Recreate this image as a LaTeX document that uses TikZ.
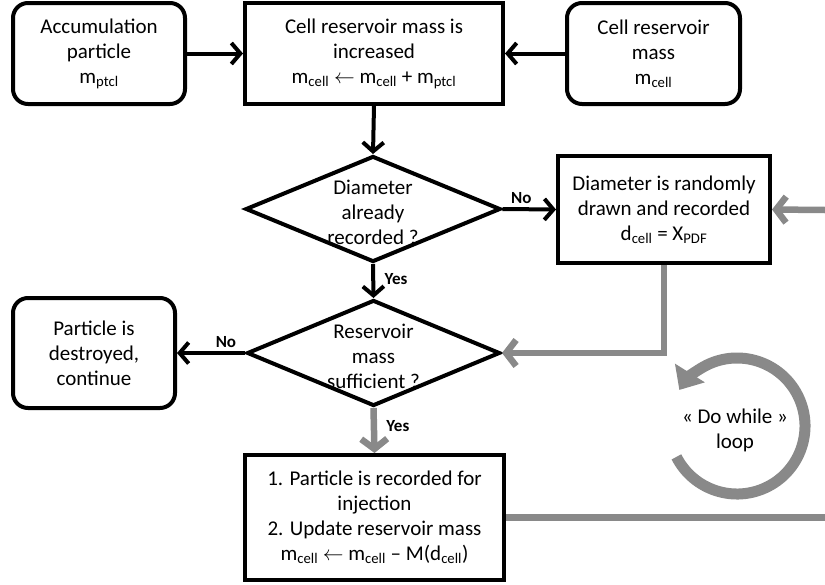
\documentclass[tikz,border=0pt]{standalone}
\usepackage{fontspec}
\setmainfont{Carlito}
\usetikzlibrary{positioning, arrows.meta, shapes.geometric}
\definecolor{loopgray}{RGB}{137,137,137}
\tikzset{
  block/.style={draw, line width=4pt, align=center, inner sep=0pt, font=\fontsize{21}{25}\selectfont},
  task/.style={block},
  source/.style={block, rounded corners=15pt},
  decision/.style={draw, diamond, line width=4pt, inner sep=0pt},
  txt/.style={align=center, font=\fontsize{21}{25}\selectfont},
  lbl/.style={font=\fontsize{17}{20}\selectfont\bfseries},
  arr/.style={-{Straight Barb[length=9pt, width=21pt]}, line width=4pt},
  garr/.style={-{Straight Barb[length=10pt, width=26pt]}, draw=loopgray, line width=6.5pt},
  gline/.style={draw=loopgray, line width=6.5pt}
}
\begin{document}
\begin{tikzpicture}[x=1pt, y=-1pt]
\useasboundingbox (0,0) rectangle (825,584);
\node[source, minimum width=172pt, minimum height=101pt] (acc) at (99,53.5) {Accumulation\\particle\\m\textsubscript{ptcl}};
\node[task, minimum width=258pt, minimum height=101pt] (incr) at (374,53.5) {Cell reservoir mass is\\increased\\m\textsubscript{cell} $\leftarrow$ m\textsubscript{cell} + m\textsubscript{ptcl}};
\node[source, minimum width=173pt, minimum height=101pt] (res) at (653.5,53.5) {Cell reservoir\\mass\\m\textsubscript{cell}};
\node[decision, minimum width=255pt, minimum height=106pt] (diam1) at (373,209) {};
\node[txt] (diam1txt) at (373,212) {Diameter\\already\\recorded ?};
\node[task, minimum width=212pt, minimum height=107pt] (rand) at (664,209.5) {Diameter is randomly\\drawn and recorded\\d\textsubscript{cell} = X\textsubscript{PDF}};
\node[decision, minimum width=253pt, minimum height=106pt] (diam2) at (373.5,353) {};
\node[txt] (diam2txt) at (373.5,356) {Reservoir\\mass\\sufficient ?};
\node[source, minimum width=162pt, minimum height=110pt] (destr) at (94,353) {Particle is\\destroyed,\\continue};
\node[task, minimum width=259pt, minimum height=125pt] (upd) at (374.5,517.5) {1. Particle is recorded for\\injection\\2. Update reservoir mass\\m\textsubscript{cell} $\leftarrow$ m\textsubscript{cell} -- M(d\textsubscript{cell})};
\node[txt] (loop) at (735,430) {« Do while »\\loop};
\coordinate (inR) at (825,210);
\coordinate (outR) at (825,517.5);
\draw[arr] (acc) -- (incr);
\draw[arr] (res) -- (incr);
\draw[arr] (incr.south) -- (diam1.north);
\draw[arr] (diam1.east) -- node[lbl, above, pos=0.35] {No} (rand.west);
\draw[arr] (diam1.south) -- node[lbl, right=6pt, pos=0.45] {Yes} (diam2.north);
\draw[arr] (diam2.west) -- node[lbl, above, pos=0.28] {No} (destr.east);
\draw[garr] (diam2.south) -- node[lbl, text=black, right=6pt, pos=0.39] {Yes} (upd.north);
\draw[garr] (rand.south) |- (diam2.east);
\draw[garr] (inR) -- (rand.east);
\draw[gline] (upd.east) -- (outR);
\draw[loopgray, line width=11pt, -{Triangle[length=20pt, width=34pt]}] (737,426) ++(153:68) arc[start angle=153, end angle=-148, radius=68];
\end{tikzpicture}
\end{document}
